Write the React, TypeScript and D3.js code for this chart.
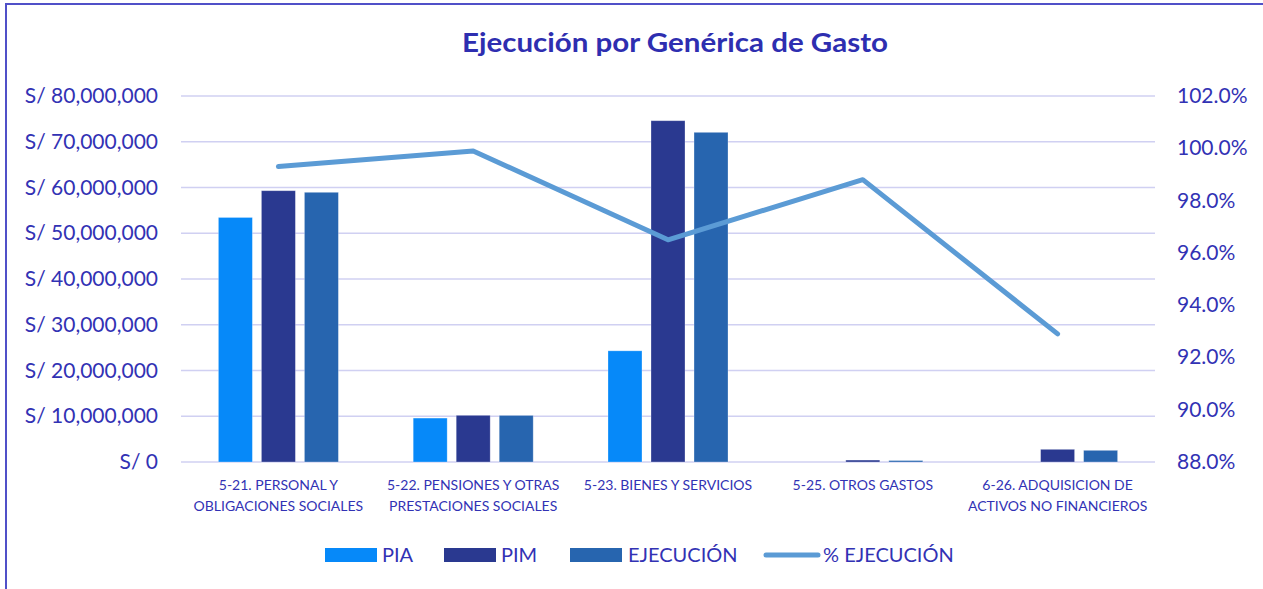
import React from "react";
import * as d3 from "d3";

const categories = [
  ["5-21. PERSONAL Y", "OBLIGACIONES SOCIALES"],
  ["5-22. PENSIONES Y OTRAS", "PRESTACIONES SOCIALES"],
  ["5-23. BIENES Y SERVICIOS"],
  ["5-25. OTROS GASTOS"],
  ["6-26. ADQUISICION DE", "ACTIVOS NO FINANCIEROS"],
];
const seriesNames = ["PIA", "PIM", "EJECUCIÓN"];
const pia = [53450000, 9600000, 24300000, 0, 0];
const pim = [59300000, 10200000, 74600000, 420000, 2770000];
const ejecucion = [58950000, 10180000, 72060000, 320000, 2550000];
const pctEjecucion = [0.993, 0.999, 0.965, 0.988, 0.929];
const leftTicks = [0, 10000000, 20000000, 30000000, 40000000, 50000000, 60000000, 70000000, 80000000];
const rightTicks = [0.88, 0.9, 0.92, 0.94, 0.96, 0.98, 1.0, 1.02];

const W = 1263;
const H = 589;
const FONT = "Lato, 'Open Sans', sans-serif";
const TEXT = "#3232B4";
const GRID = "#D0D0F2";
const COLORS = ["#0689F9", "#2A3990", "#2765AF"];
const LINE = "#5B9BD5";

export default function App() {
  const left = 181, right = 1155, top = 96, bottom = 462;
  const x = d3.scaleBand<number>().domain(d3.range(categories.length)).range([left, right]).padding(0);
  const groupW = 120;
  const xi = d3.scaleBand<number>().domain([0, 1, 2]).range([0, groupW]).paddingInner(0.21).paddingOuter(0);
  const y = d3.scaleLinear().domain([0, 80000000]).range([bottom, top]);
  const y2 = d3.scaleLinear().domain([0.88, 1.02]).range([bottom, top]);
  const data = [pia, pim, ejecucion];
  const fmtLeft = (v: number) => (v === 0 ? "S/ 0" : "S/ " + d3.format(",")(v));
  const fmtRight = d3.format(".1%");
  const cx = (i: number) => (x(i) as number) + x.bandwidth() / 2;
  const line = d3
    .line<number>()
    .x((_, i) => cx(i))
    .y((d) => y2(d));

  const legendItems = [
    { type: "rect", color: COLORS[0], label: seriesNames[0], x: 325, tx: 382 },
    { type: "rect", color: COLORS[1], label: seriesNames[1], x: 444, tx: 501 },
    { type: "rect", color: COLORS[2], label: seriesNames[2], x: 570, tx: 628 },
    { type: "line", color: LINE, label: "% EJECUCIÓN", x: 766, tx: 823 },
  ];

  return (
    <div style={{ position: "absolute", left: 0, top: 0 }}>
      <svg width={W} height={H} style={{ display: "block" }}>
        <rect x={0} y={0} width={W} height={H} fill="#fff" />
        <rect x={6} y={4} width={W + 10} height={H + 10} fill="none" stroke="#5050C8" strokeWidth={2} />
        <text
          x={462}
          y={52}
          fontFamily={FONT}
          fontWeight="bold"
          fontSize={27}
          fill="#2E2EB0"
          textLength={426}
          lengthAdjust="spacingAndGlyphs"
        >
          Ejecución por Genérica de Gasto
        </text>
        {leftTicks.map((t) => (
          <g key={t}>
            <line x1={left} x2={right} y1={y(t)} y2={y(t)} stroke={GRID} strokeWidth={1.5} />
            <text x={158} y={y(t) + 7} textAnchor="end" fontFamily={FONT} fontSize={21} fill={TEXT}>
              {fmtLeft(t)}
            </text>
          </g>
        ))}
        {rightTicks.map((t) => (
          <text key={t} x={1177} y={y2(t) + 7} textAnchor="start" fontFamily={FONT} fontSize={21} fill={TEXT}>
            {fmtRight(t)}
          </text>
        ))}
        {data.map((series, s) =>
          series.map((v, i) => {
            const bx = cx(i) - groupW / 2 + (xi(s) as number);
            return (
              <rect
                key={s + "-" + i}
                x={bx}
                y={y(v)}
                width={xi.bandwidth()}
                height={bottom - y(v)}
                fill={COLORS[s]}
                stroke="#ffffff"
                strokeOpacity={0.35}
                strokeWidth={0.8}
              />
            );
          })
        )}
        <path d={line(pctEjecucion) || ""} fill="none" stroke={LINE} strokeWidth={5} strokeLinecap="round" strokeLinejoin="round" />
        {categories.map((lines, i) => (
          <text key={i} textAnchor="middle" fontFamily={FONT} fontSize={14} fill={TEXT}>
            {lines.map((l, j) => (
              <tspan key={j} x={cx(i)} y={490 + j * 20.5}>
                {l}
              </tspan>
            ))}
          </text>
        ))}
        {legendItems.map((it) => (
          <g key={it.label}>
            {it.type === "rect" ? (
              <rect x={it.x} y={548} width={52} height={14} fill={it.color} />
            ) : (
              <line x1={it.x} x2={it.x + 52} y1={555} y2={555} stroke={it.color} strokeWidth={5} strokeLinecap="round" />
            )}
            <text x={it.tx} y={562} fontFamily={FONT} fontSize={20} fill={TEXT}>
              {it.label}
            </text>
          </g>
        ))}
      </svg>
    </div>
  );
}
